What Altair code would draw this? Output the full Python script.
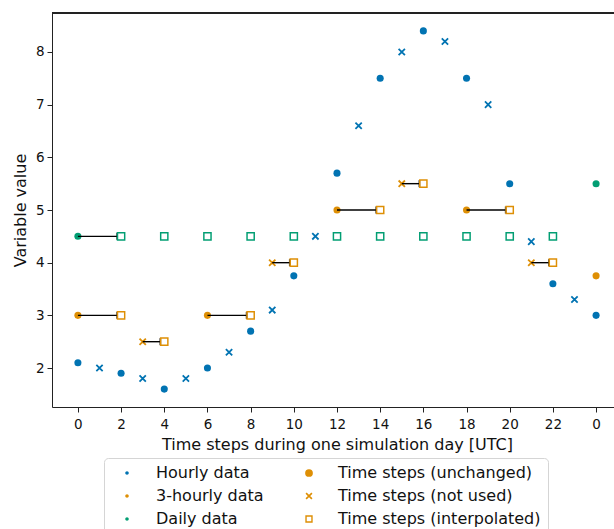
import altair as alt
import pandas as pd

# ---------------- data ----------------
hours = list(range(25))
hourly_values = [2.1, 2.0, 1.9, 1.8, 1.6, 1.8, 2.0, 2.3, 2.7, 3.1, 3.75, 4.5, 5.7,
                 6.6, 7.5, 8.0, 8.4, 8.2, 7.5, 7.0, 5.5, 4.4, 3.6, 3.3, 3.0]
hourly_kind = ["unchanged" if h % 2 == 0 else "not used" for h in hours]

three_hourly_hours = [0, 3, 6, 9, 12, 15, 18, 21, 24]
three_hourly_values = [3.0, 2.5, 3.0, 4.0, 5.0, 5.5, 5.0, 4.0, 3.75]
three_hourly_kind = ["unchanged", "not used", "unchanged", "not used", "unchanged",
                     "not used", "unchanged", "not used", "unchanged"]

daily_hours = [0, 24]
daily_values = [4.5, 5.5]
daily_kind = ["unchanged", "unchanged"]

# interpolated time steps (squares)
three_interp_hours = [2, 4, 8, 10, 14, 16, 20, 22]
three_interp_values = [3.0, 2.5, 3.0, 4.0, 5.0, 5.5, 5.0, 4.0]
daily_interp_hours = [2, 4, 6, 8, 10, 12, 14, 16, 18, 20, 22]
daily_interp_values = [4.5, 4.5, 4.5, 4.5, 4.5, 4.5, 4.5, 4.5, 4.5, 4.5, 4.5]

# arrows (source time step -> interpolated time step)
arrow_from = [0, 3, 6, 9, 12, 15, 18, 21, 0]
arrow_to = [2, 4, 8, 10, 14, 16, 20, 22, 2]
arrow_values = [3.0, 2.5, 3.0, 4.0, 5.0, 5.5, 5.0, 4.0, 4.5]

x_tick_values = list(range(25))
x_tick_labels = ["0", "", "2", "", "4", "", "6", "", "8", "", "10", "", "12", "",
                 "14", "", "16", "", "18", "", "20", "", "22", "", "0"]
y_tick_values = [2, 3, 4, 5, 6, 7, 8]

legend_labels = ["Hourly data", "3-hourly data", "Daily data",
                 "Time steps (unchanged)", "Time steps (not used)", "Time steps (interpolated)"]

# ---------------- styles ----------------
BLUE, ORANGE, GREEN = "#0173B2", "#DE8F05", "#029E73"
FONT = "DejaVu Sans"


def x_path(s):
    a, b = 0.8 * s, 1.2 * s
    return (f"M{-a},{-b}L{b},{a}L{a},{b}L{-b},{-a}Z"
            f"M{-a},{b}L{-b},{a}L{a},{-b}L{b},{-a}Z")


def square_path(s, inner):
    i = inner * s
    return f"M{-s},{-s}H{s}V{s}H{-s}ZM{-i},{-i}V{i}H{i}V{-i}Z"


def dot_path(r):
    return f"M{-r},0A{r},{r} 0 1,1 {r},0A{r},{r} 0 1,1 {-r},0Z"


XPATH = x_path(1.0)
SQPATH = square_path(1.0, 0.66)

legend_colors = [BLUE, ORANGE, GREEN, ORANGE, ORANGE, ORANGE]
legend_shapes = [dot_path(0.45), dot_path(0.45), dot_path(0.45), "circle",
                 x_path(0.75), square_path(0.95, 0.62)]

rows = []
for h, v, k in zip(hours, hourly_values, hourly_kind):
    rows.append({"hour": h, "value": v, "series": "hourly", "kind": k})
for h, v, k in zip(three_hourly_hours, three_hourly_values, three_hourly_kind):
    rows.append({"hour": h, "value": v, "series": "3-hourly", "kind": k})
for h, v, k in zip(daily_hours, daily_values, daily_kind):
    rows.append({"hour": h, "value": v, "series": "daily", "kind": k})
for h, v in zip(three_interp_hours, three_interp_values):
    rows.append({"hour": h, "value": v, "series": "3-hourly", "kind": "interpolated"})
for h, v in zip(daily_interp_hours, daily_interp_values):
    rows.append({"hour": h, "value": v, "series": "daily", "kind": "interpolated"})
points = pd.DataFrame(rows)
arrows = pd.DataFrame({"x0": arrow_from, "x1": arrow_to, "value": arrow_values})
legend_df = pd.DataFrame({"entry": legend_labels})

xscale = alt.Scale(domain=[-1.2, 24.83], nice=False, zero=False)
yscale = alt.Scale(domain=[1.26, 8.74], nice=False, zero=False)

label_expr = "[" + ",".join("'%s'" % s for s in x_tick_labels) + "][datum.value]"
xaxis = alt.Axis(values=x_tick_values, labelExpr=label_expr, title="Time steps during one simulation day [UTC]",
                 grid=False, tickSize=5, labelPadding=5, labelFontSize=13.5, titleFontSize=16,
                 titleFontWeight="normal", titlePadding=6, domainColor="#222", tickColor="#222",
                 labelColor="#111", titleColor="#111", labelFont=FONT, titleFont=FONT,
                 labelOverlap=False, labelFlush=False, titleX=285)
yaxis = alt.Axis(values=y_tick_values, title="Variable value", grid=False, tickSize=5, labelPadding=3,
                 labelFontSize=13.5, titleFontSize=16, titleFontWeight="normal", titlePadding=7,
                 domainColor="#222", tickColor="#222", labelColor="#111", titleColor="#111",
                 labelFont=FONT, titleFont=FONT)

base = alt.Chart(points)
X = alt.X("hour:Q", scale=xscale, axis=xaxis)
Y = alt.Y("value:Q", scale=yscale, axis=yaxis)
X2 = alt.X("hour:Q", scale=xscale)
Y2 = alt.Y("value:Q", scale=yscale)

layers = []
first = True
for series, col in [("hourly", BLUE), ("3-hourly", ORANGE), ("daily", GREEN)]:
    circ = base.transform_filter(
        (alt.datum.series == series) & (alt.datum.kind == "unchanged")
    ).mark_point(shape="circle", filled=True, size=50, color=col, opacity=1).encode(
        x=X if first else X2, y=Y if first else Y2)
    first = False
    layers.append(circ)
    xs = base.transform_filter(
        (alt.datum.series == series) & (alt.datum.kind == "not used")
    ).mark_point(shape=XPATH, filled=True, size=40, color=col, opacity=1).encode(x=X2, y=Y2)
    layers.append(xs)

arrow_lines = alt.Chart(arrows).mark_rule(color="black", strokeWidth=1.4, x2Offset=-4).encode(
    x=alt.X("x0:Q", scale=xscale), x2="x1:Q", y=alt.Y("value:Q", scale=yscale))
arrow_bars = alt.Chart(arrows).mark_tick(color="black", thickness=1.8, size=7, orient="vertical",
                                        xOffset=-4).encode(
    x=alt.X("x1:Q", scale=xscale), y=alt.Y("value:Q", scale=yscale))
layers += [arrow_lines, arrow_bars]

for series, col in [("3-hourly", ORANGE), ("daily", GREEN)]:
    sq = base.transform_filter(
        (alt.datum.series == series) & (alt.datum.kind == "interpolated")
    ).mark_point(shape=SQPATH, filled=True, size=75, color=col, opacity=1).encode(x=X2, y=Y2)
    layers.append(sq)

frame_top = alt.Chart(arrows).mark_rule(color="#222", strokeWidth=1).encode(
    x=alt.value(0), x2=alt.value(562), y=alt.value(0))
layers.append(frame_top)

leg = alt.Legend(title=None, orient="none", legendX=52, legendY=445, columns=2,
                 padding=7, fillColor="white", strokeColor="#d5d5d5", cornerRadius=4,
                 labelFontSize=16, labelFont=FONT, labelColor="#111", rowPadding=7,
                 columnPadding=29, labelOffset=21, labelLimit=400, symbolStrokeWidth=0,
                 symbolOffset=8, symbolSize=60)
legend_layer = alt.Chart(legend_df).transform_filter("false").mark_point(filled=True, opacity=1).encode(
    color=alt.Color("entry:N", scale=alt.Scale(domain=legend_labels, range=legend_colors), legend=leg),
    shape=alt.Shape("entry:N", scale=alt.Scale(domain=legend_labels, range=legend_shapes), legend=leg),
)
layers.append(legend_layer)

chart = alt.layer(*layers).properties(
    width=562, height=394,
    autosize=alt.AutoSizeParams(type="none"),
    padding={"left": 52, "top": 13, "right": 0, "bottom": 122},
).configure_view(stroke=None).configure(background="white")

chart.save("out.html", embed_options={"renderer": "svg", "actions": False})
